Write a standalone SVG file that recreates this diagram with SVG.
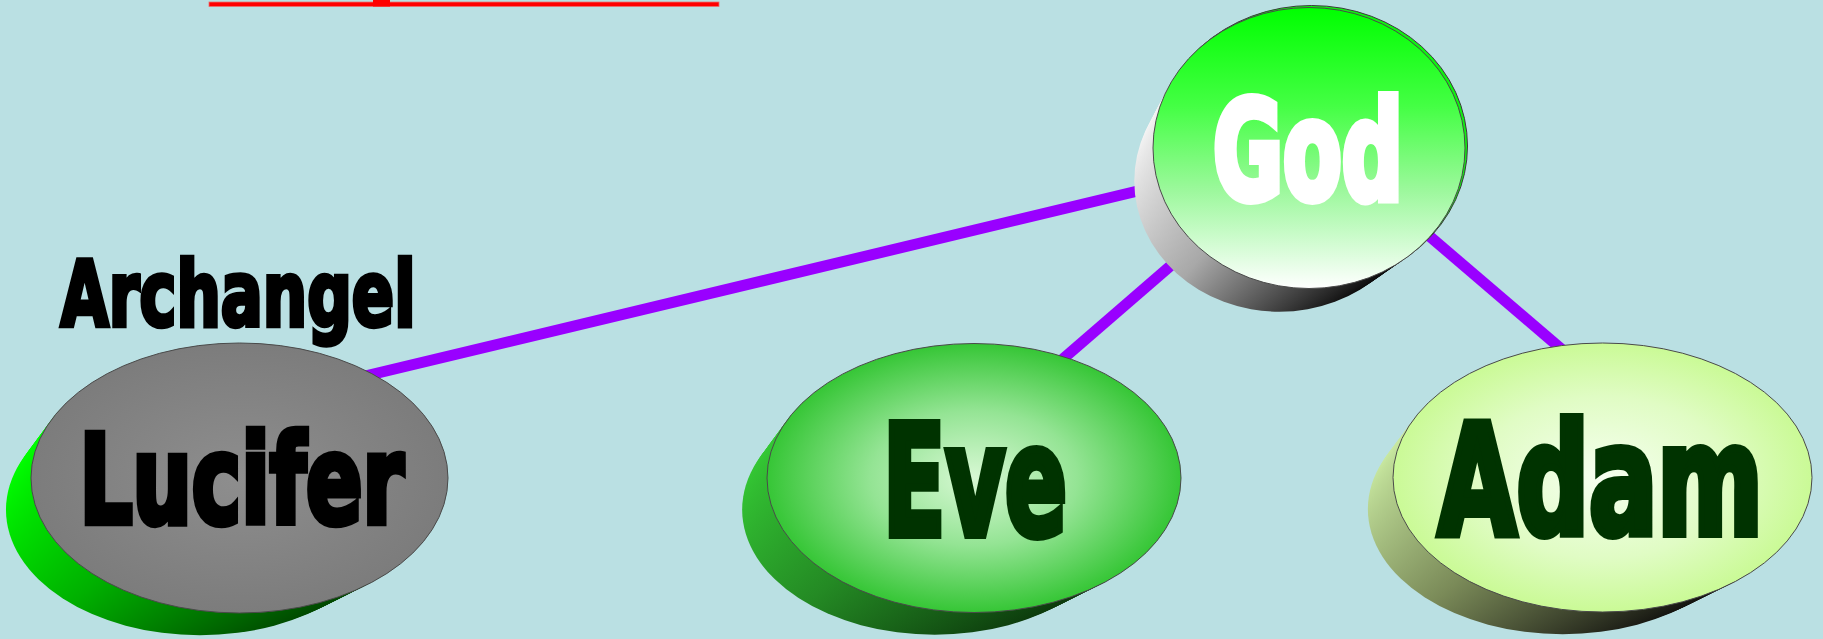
<svg xmlns="http://www.w3.org/2000/svg" xmlns:xlink="http://www.w3.org/1999/xlink" width="1823" height="639" viewBox="0 0 1823 639">
<style>
.lbl{font-family:"DejaVu Sans Condensed","Liberation Sans Narrow","Liberation Sans",sans-serif;font-weight:bold;stroke-linejoin:miter;}
.edge{stroke:#9900ff;stroke-width:11;fill:none;}
.face{stroke:#4a4a4a;stroke-width:1;}
</style>
<defs>
<g id="stack">
<circle cx="-0.19" cy="0.235" r="0.93"/>
<circle cx="-0.1742" cy="0.2154" r="0.9358"/>
<circle cx="-0.1583" cy="0.1958" r="0.9417"/>
<circle cx="-0.1425" cy="0.1763" r="0.9475"/>
<circle cx="-0.1267" cy="0.1567" r="0.9533"/>
<circle cx="-0.1108" cy="0.1371" r="0.9592"/>
<circle cx="-0.095" cy="0.1175" r="0.965"/>
<circle cx="-0.0792" cy="0.0979" r="0.9708"/>
<circle cx="-0.0633" cy="0.0783" r="0.9767"/>
<circle cx="-0.0475" cy="0.0588" r="0.9825"/>
<circle cx="-0.0317" cy="0.0392" r="0.9883"/>
<circle cx="-0.0158" cy="0.0196" r="0.9942"/>
</g>
<linearGradient id="sideGod" x1="0" y1="0.35" x2="0.7" y2="1">
<stop offset="0" stop-color="#f4f4f4"/><stop offset="0.5" stop-color="#a8a8a8"/><stop offset="1" stop-color="#0c0c0c"/>
</linearGradient>
<linearGradient id="sideLuc" x1="0" y1="0.35" x2="0.7" y2="1">
<stop offset="0" stop-color="#00ff00"/><stop offset="0.5" stop-color="#00b000"/><stop offset="1" stop-color="#004800"/>
</linearGradient>
<linearGradient id="sideEve" x1="0" y1="0.35" x2="0.7" y2="1">
<stop offset="0" stop-color="#34c834"/><stop offset="0.5" stop-color="#248a24"/><stop offset="1" stop-color="#0c3a0c"/>
</linearGradient>
<linearGradient id="sideAdam" x1="0" y1="0.35" x2="0.7" y2="1">
<stop offset="0" stop-color="#c8e8a0"/><stop offset="0.5" stop-color="#7a8a58"/><stop offset="1" stop-color="#141410"/>
</linearGradient>
<linearGradient id="topGod" x1="0" y1="0" x2="0" y2="1">
<stop offset="0" stop-color="#00ff00"/><stop offset="0.35" stop-color="#44ff44"/><stop offset="0.65" stop-color="#9cf89c"/><stop offset="1" stop-color="#ffffff"/>
</linearGradient>
<radialGradient id="topLuc" cx="0.5" cy="0.5" r="0.5">
<stop offset="0" stop-color="#8e8e8e"/><stop offset="1" stop-color="#7c7c7c"/>
</radialGradient>
<radialGradient id="topEve" cx="0.5" cy="0.5" r="0.5">
<stop offset="0" stop-color="#d8f8d4"/><stop offset="0.5" stop-color="#94e494"/><stop offset="1" stop-color="#36c636"/>
</radialGradient>
<radialGradient id="topAdam" cx="0.5" cy="0.5" r="0.5">
<stop offset="0" stop-color="#f6fff0"/><stop offset="0.6" stop-color="#e0fcc4"/><stop offset="1" stop-color="#cafa96"/>
</radialGradient>
</defs>
<rect x="0" y="0" width="1823" height="639" fill="#bae0e3"/>
<g id="title">
<rect x="209" y="2" width="510" height="4.5" fill="#ff0000" stroke="#e87070" stroke-width="0.8"/>
<rect x="373" y="0" width="17" height="6.5" fill="#ff0000"/>
</g>
<g id="connectors">
<line class="edge" x1="240" y1="406" x2="1309" y2="150"/>
<line class="edge" x1="930" y1="474" x2="1309" y2="146"/>
<line class="edge" x1="1309" y1="133" x2="1650" y2="425"/>
</g>
<g id="node-god">
<use xlink:href="#stack" href="#stack" fill="url(#sideGod)" transform="translate(1309,148) scale(156,140.5)"/>
<ellipse cx="1311.5" cy="146" rx="156" ry="140.5" fill="#10f010" stroke="#3a3a3a" stroke-width="1"/>
<ellipse class="face" cx="1309" cy="148" rx="156" ry="140.5" fill="url(#topGod)"/>
<text class="lbl" x="1213" y="199" font-size="137" textLength="190" lengthAdjust="spacingAndGlyphs" fill="#ffffff" stroke="#ffffff" stroke-width="8">God</text>
</g>
<g id="node-lucifer">
<text class="lbl" x="60.5" y="326" font-size="90" textLength="355" lengthAdjust="spacingAndGlyphs" fill="#000000" stroke="#000000" stroke-width="4.5">Archangel</text>
<use xlink:href="#stack" href="#stack" fill="url(#sideLuc)" transform="translate(239.5,478) scale(208.5,135)"/>
<ellipse class="face" cx="239.5" cy="478" rx="208.5" ry="135" fill="url(#topLuc)"/>
<text class="lbl" x="79.5" y="523" font-size="123" textLength="324" lengthAdjust="spacingAndGlyphs" fill="#000000" stroke="#000000" stroke-width="6.5">Lucifer</text>
</g>
<g id="node-eve">
<use xlink:href="#stack" href="#stack" fill="url(#sideEve)" transform="translate(974,478) scale(207,134.5)"/>
<ellipse class="face" cx="974" cy="478" rx="207" ry="134.5" fill="url(#topEve)"/>
<text class="lbl" x="883" y="535" font-size="154" textLength="184" lengthAdjust="spacingAndGlyphs" fill="#003300" stroke="#003300" stroke-width="8">Eve</text>
</g>
<g id="node-adam">
<use xlink:href="#stack" href="#stack" fill="url(#sideAdam)" transform="translate(1602.5,477.5) scale(209.5,134.5)"/>
<ellipse class="face" cx="1602.5" cy="477.5" rx="209.5" ry="134.5" fill="url(#topAdam)"/>
<text class="lbl" x="1438" y="534" font-size="154" textLength="325" lengthAdjust="spacingAndGlyphs" fill="#003300" stroke="#003300" stroke-width="8">Adam</text>
</g>
</svg>
